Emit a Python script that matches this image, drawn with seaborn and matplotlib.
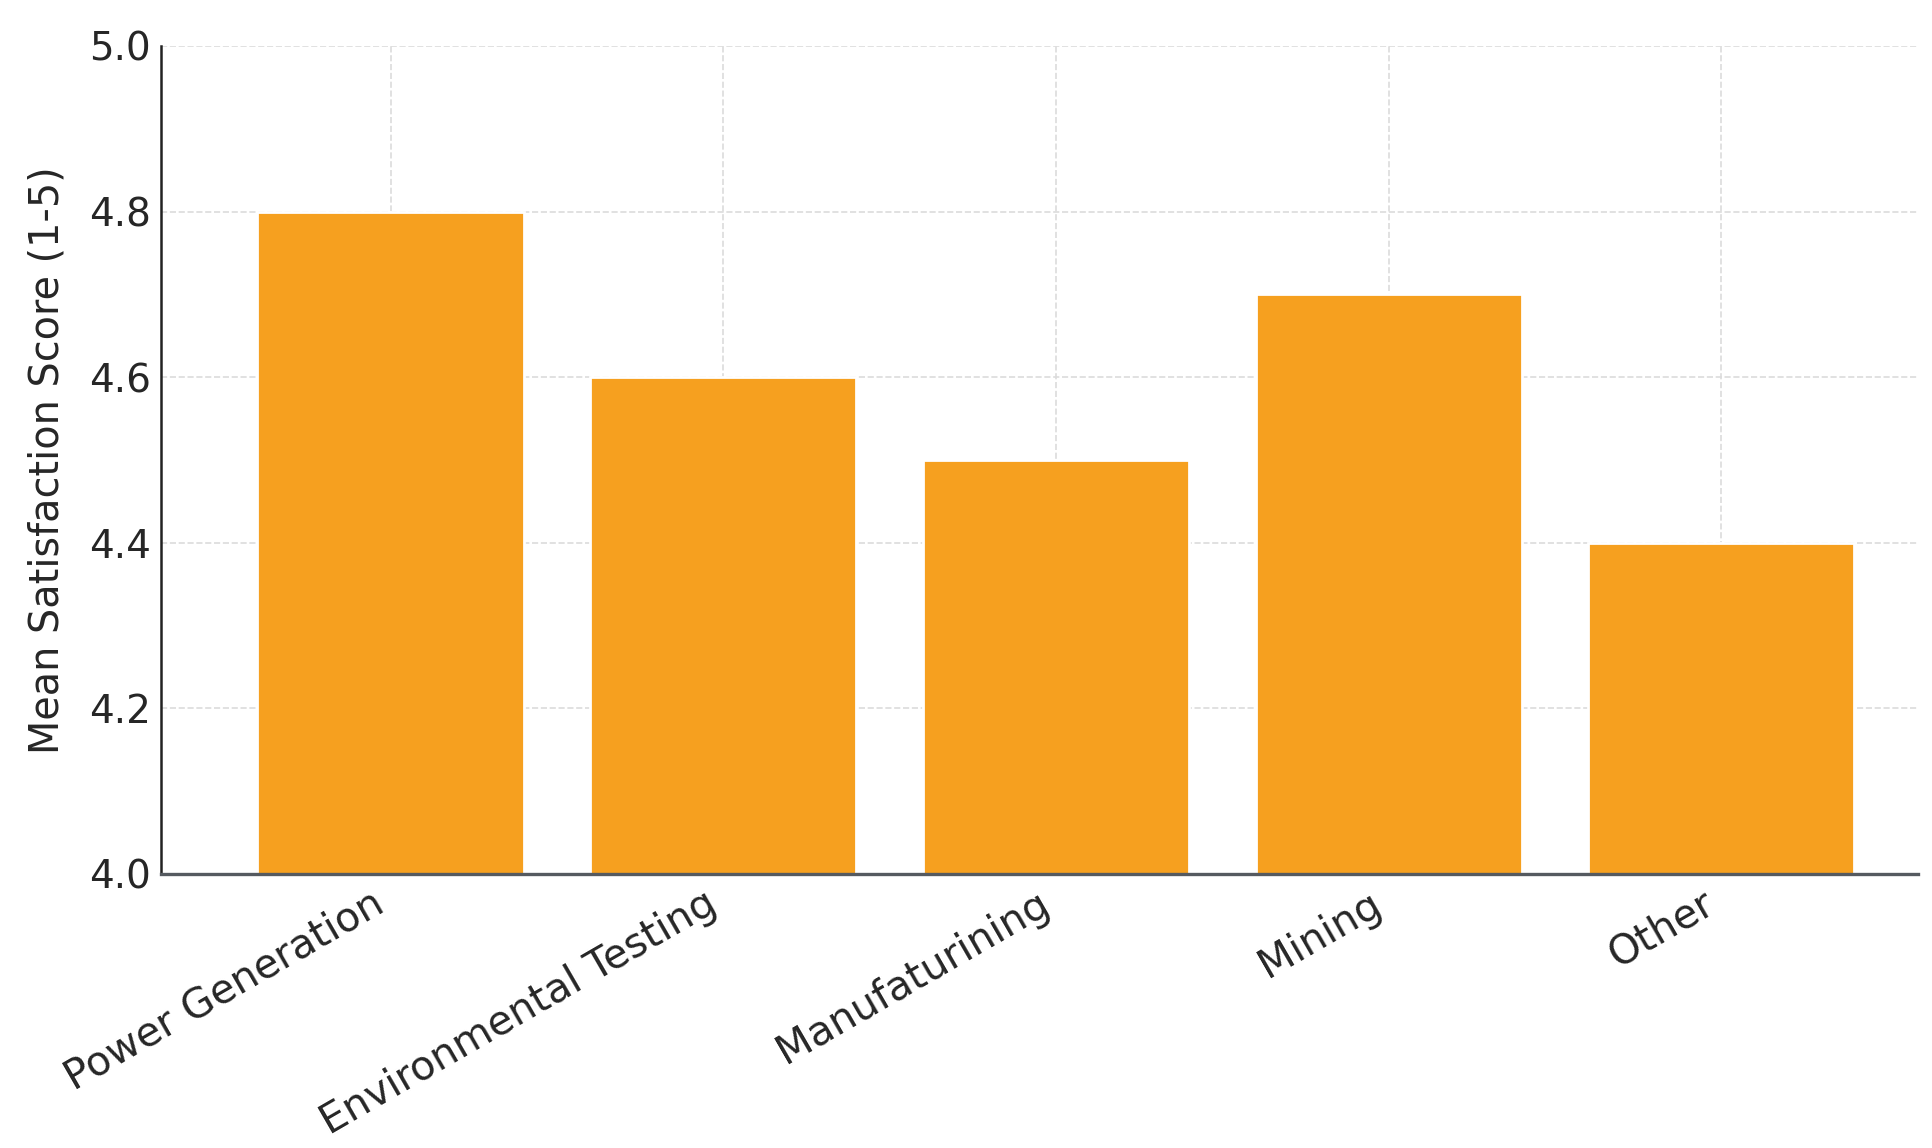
import pandas as pd
import matplotlib
matplotlib.use("Agg")
import matplotlib.pyplot as plt
import seaborn as sns

# Data
categories = ["Power Generation", "Environmental Testing", "Manufaturining", "Mining", "Other"]
scores = [4.8, 4.6, 4.5, 4.7, 4.4]
y_ticks = [4.0, 4.2, 4.4, 4.6, 4.8, 5.0]

df = pd.DataFrame({"sector": categories, "score": scores})

sns.set_style("white")
plt.rcParams["font.family"] = ["DejaVu Sans"]

fig = plt.figure(figsize=(9.665, 5.74), dpi=200)
ax = fig.add_axes([0.0833, 0.2387, 0.9087, 0.7213])

sns.barplot(data=df, x="sector", y="score", color="#F6A01F", saturation=1,
            width=0.8, ax=ax)

ax.set_ylim(4.0, 5.0)
ax.set_xlim(-0.69, 4.59)
ax.set_yticks(y_ticks)
ax.set_yticklabels([f"{t:.1f}" for t in y_ticks])
ax.set_xlabel("")
ax.set_ylabel("Mean Satisfaction Score (1-5)", fontsize=14.3, labelpad=8)

ax.grid(True, linestyle="--", color="#dcdcdc", linewidth=0.6)
ax.set_axisbelow(True)

ax.tick_params(axis="both", direction="in", length=3.5, width=0.8, labelsize=14)
plt.setp(ax.get_xticklabels(), rotation=30, ha="right", fontsize=14.6)

sns.despine(ax=ax, top=True, right=True)
ax.spines["left"].set_color("#222222")
ax.spines["left"].set_linewidth(0.9)
ax.spines["bottom"].set_color("#555a60")
ax.spines["bottom"].set_linewidth(1.2)

fig.savefig("out.png", dpi=200)
